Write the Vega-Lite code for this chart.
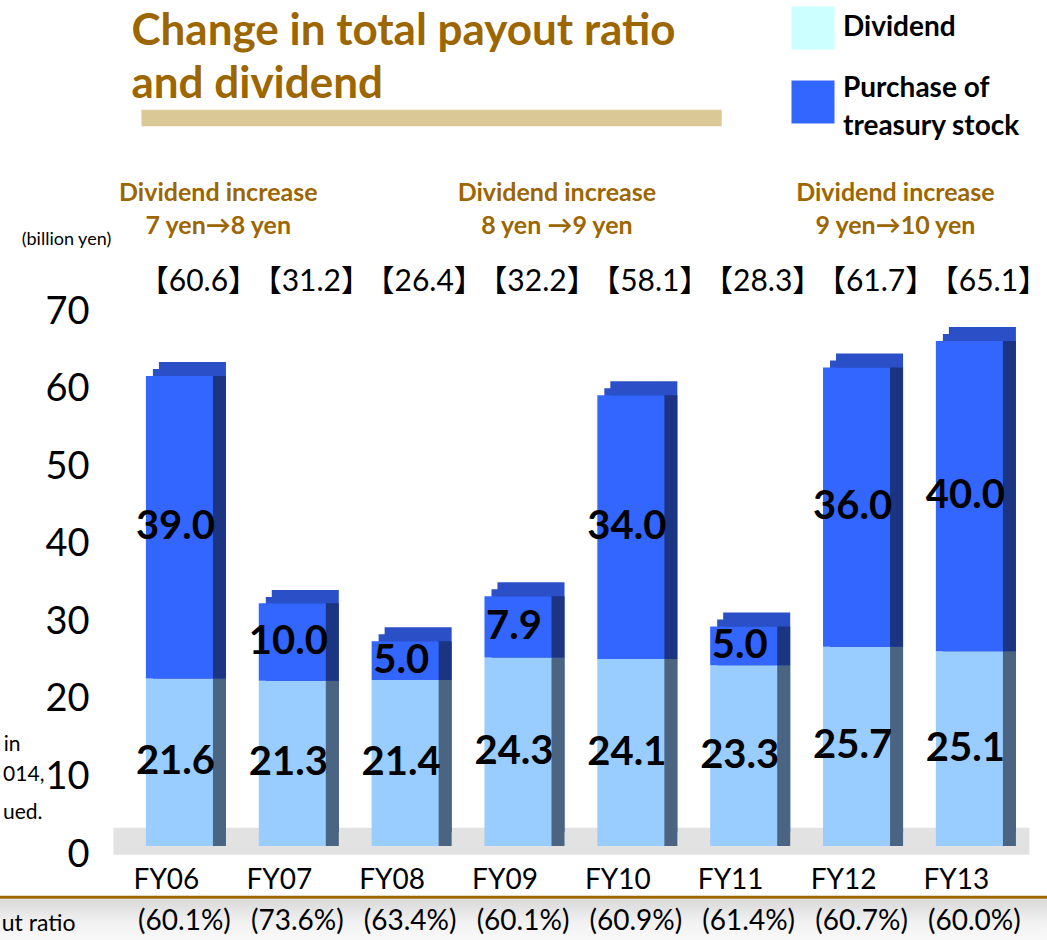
{
  "$schema": "https://vega.github.io/schema/vega-lite/v6.json",
  "width": 1047,
  "height": 543,
  "autosize": {"type": "none"},
  "padding": {"left": 0, "top": 303, "right": 0, "bottom": 94},
  "background": "white",
  "config": {"view": {"stroke": null}, "font": "Lato"},
  "datasets": {
    "bars": [
      {"fy": "FY06", "type": "Dividend", "value": 21.6},
      {"fy": "FY06", "type": "Purchase of treasury stock", "value": 39.0},
      {"fy": "FY07", "type": "Dividend", "value": 21.3},
      {"fy": "FY07", "type": "Purchase of treasury stock", "value": 10.0},
      {"fy": "FY08", "type": "Dividend", "value": 21.4},
      {"fy": "FY08", "type": "Purchase of treasury stock", "value": 5.0},
      {"fy": "FY09", "type": "Dividend", "value": 24.3},
      {"fy": "FY09", "type": "Purchase of treasury stock", "value": 7.9},
      {"fy": "FY10", "type": "Dividend", "value": 24.1},
      {"fy": "FY10", "type": "Purchase of treasury stock", "value": 34.0},
      {"fy": "FY11", "type": "Dividend", "value": 23.3},
      {"fy": "FY11", "type": "Purchase of treasury stock", "value": 5.0},
      {"fy": "FY12", "type": "Dividend", "value": 25.7},
      {"fy": "FY12", "type": "Purchase of treasury stock", "value": 36.0},
      {"fy": "FY13", "type": "Dividend", "value": 25.1},
      {"fy": "FY13", "type": "Purchase of treasury stock", "value": 40.0}
    ],
    "totals": [
      {"fy": "FY06", "total": 60.6, "ratio": 60.1},
      {"fy": "FY07", "total": 31.2, "ratio": 73.6},
      {"fy": "FY08", "total": 26.4, "ratio": 63.4},
      {"fy": "FY09", "total": 32.2, "ratio": 60.1},
      {"fy": "FY10", "total": 58.1, "ratio": 60.9},
      {"fy": "FY11", "total": 28.3, "ratio": 61.4},
      {"fy": "FY12", "total": 61.7, "ratio": 60.7},
      {"fy": "FY13", "total": 65.1, "ratio": 60.0}
    ],
    "notes": [
      {"fy": "FY07", "line1": "Dividend increase", "line2": "7 yen→8 yen"},
      {"fy": "FY10", "line1": "Dividend increase", "line2": "8 yen →9 yen"},
      {"fy": "FY13", "line1": "Dividend increase", "line2": "9 yen→10 yen"}
    ],
    "one": [{"k": 1}]
  },
  "resolve": {"scale": {"color": "independent"}, "legend": {"color": "independent"}},
  "layer": [
    {
      "data": {"name": "one"},
      "mark": {"type": "rect", "color": "#e2e2e2", "xOffset": -66, "x2Offset": 60},
      "encoding": {
        "x": {"datum": "FY06", "type": "nominal"},
        "x2": {"datum": "FY13"},
        "y": {"datum": -1.12, "type": "quantitative"},
        "y2": {"datum": 2.36}
      }
    },
    {
      "data": {"name": "totals"},
      "mark": {"type": "bar", "color": "#2a4fc6", "xOffset": 13, "yOffset": -14, "y2Offset": -14},
      "encoding": {
        "x": {"field": "fy", "type": "nominal", "title": null},
        "y": {"field": "total", "type": "quantitative", "title": null},
        "y2": {"datum": 0}
      }
    },
    {
      "data": {"name": "totals"},
      "mark": {"type": "bar", "color": "#2a4fc6", "xOffset": 7, "yOffset": -7, "y2Offset": -7},
      "encoding": {
        "x": {"field": "fy", "type": "nominal", "title": null},
        "y": {"field": "total", "type": "quantitative", "title": null},
        "y2": {"datum": 0}
      }
    },
    {
      "data": {"name": "bars"},
      "mark": {"type": "bar", "xOffset": 13},
      "encoding": {
        "x": {"field": "fy", "type": "nominal", "title": null},
        "y": {"field": "value", "type": "quantitative", "stack": "zero", "title": null},
        "detail": {"field": "type"},
        "order": {"field": "type", "sort": "ascending"},
        "color": {"condition": {"test": "datum.type === 'Dividend'", "value": "#4b6481"}, "value": "#1b3583"}
      }
    },
    {
      "data": {"name": "bars"},
      "mark": {"type": "bar"},
      "encoding": {
        "x": {
          "field": "fy", "type": "nominal", "title": null,
          "scale": {"type": "band", "domain": ["FY06","FY07","FY08","FY09","FY10","FY11","FY12","FY13"], "paddingInner": 0.406, "paddingOuter": 0.8418, "align": 0.768},
          "axis": {"title": null, "domain": false, "ticks": false, "labelPadding": 34, "labelFontSize": 28, "labelFont": "Lato", "labelColor": "black", "labelOffset": -13, "labelAngle": 0, "labelAlign": "center", "labelBaseline": "middle"}
        },
        "y": {
          "field": "value", "type": "quantitative", "stack": "zero", "title": null,
          "scale": {"domain": [0, 70], "nice": false, "zero": false},
          "axis": {"title": null, "grid": false, "domain": false, "ticks": false, "tickSize": 0, "labelPadding": 0, "offset": -89, "labelFontSize": 38, "labelFont": "Lato", "labelColor": "black", "values": [0, 10, 20, 30, 40, 50, 60, 70], "labelOffset": 9, "labelAlign": "right", "labelBaseline": "middle"}
        },
        "order": {"field": "type", "sort": "ascending"},
        "color": {
          "field": "type", "type": "nominal",
          "scale": {"domain": ["Dividend", "Purchase of treasury stock"], "range": ["#99ccff", "#3366ff"]},
          "legend": null
        }
      }
    },
    {
      "data": {"name": "bars"},
      "mark": {"type": "bar", "opacity": 0},
      "encoding": {
        "x": {"field": "fy", "type": "nominal", "title": null},
        "y": {"field": "value", "type": "quantitative", "stack": "zero", "title": null},
        "order": {"field": "type", "sort": "ascending"},
        "color": {
          "field": "type", "type": "nominal",
          "scale": {"domain": ["Dividend", "Purchase of treasury stock"], "range": ["#ccffff", "#3366ff"]},
          "legend": {
            "orient": "none", "legendX": 791, "legendY": -297, "title": null,
            "symbolType": "square", "symbolSize": 1850, "symbolStrokeWidth": 0, "symbolOpacity": 1,
            "labelFontSize": 28, "labelFont": "Lato", "labelFontWeight": "bold", "labelColor": "black",
            "labelOffset": 8, "rowPadding": 25, "padding": 0, "labelLimit": 400,
            "labelExpr": "datum.label === 'Purchase of treasury stock' ? ['Purchase of', 'treasury stock'] : datum.label",
            "encode": {
              "labels": {"update": {"lineHeight": {"value": 38}, "dy": {"signal": "datum.index === 1 ? -13 : 0"}}}
            }
          }
        }
      }
    },
    {
      "data": {"name": "bars"},
      "transform": [
        {"stack": "value", "groupby": ["fy"], "sort": [{"field": "type", "order": "ascending"}], "as": ["v0", "v1"]},
        {"calculate": "(datum.v0 + datum.v1) / 2", "as": "mid"}
      ],
      "mark": {"type": "text", "font": "Lato", "fontWeight": "bold", "fontSize": 40, "color": "black", "baseline": "middle", "dx": -4},
      "encoding": {
        "x": {"field": "fy", "type": "nominal", "title": null},
        "y": {"field": "mid", "type": "quantitative", "title": null},
        "text": {"field": "value", "type": "quantitative", "format": ".1f"}
      }
    },
    {
      "data": {"name": "totals"},
      "transform": [{"calculate": "'【' + format(datum.total, '.1f') + '】'", "as": "lab"}],
      "mark": {"type": "text", "font": "Lato, Noto Sans CJK JP", "fontSize": 30, "color": "black", "baseline": "middle", "dx": 19},
      "encoding": {
        "x": {"field": "fy", "type": "nominal", "title": null},
        "y": {"datum": 72.7, "type": "quantitative"},
        "text": {"field": "lab"}
      }
    },
    {
      "data": {"name": "notes"},
      "mark": {"type": "text", "font": "Lato", "fontWeight": "bold", "fontSize": 25, "color": "#9c6600", "baseline": "middle", "dx": -74},
      "encoding": {
        "x": {"field": "fy", "type": "nominal", "title": null},
        "y": {"datum": 84.2, "type": "quantitative"},
        "text": {"field": "line1"}
      }
    },
    {
      "data": {"name": "notes"},
      "mark": {"type": "text", "font": "Lato", "fontWeight": "bold", "fontSize": 25, "color": "#9c6600", "baseline": "middle", "dx": -74},
      "encoding": {
        "x": {"field": "fy", "type": "nominal", "title": null},
        "y": {"datum": 79.95, "type": "quantitative"},
        "text": {"field": "line2"}
      }
    },
    {
      "data": {"name": "one"},
      "mark": {"type": "rect", "color": {"gradient": "linear", "x1": 0, "y1": 0, "x2": 0, "y2": 1, "stops": [{"offset": 0, "color": "#d9d9d9"}, {"offset": 0.5, "color": "#f2f2f2"}, {"offset": 1, "color": "#fbfbfb"}]}},
      "encoding": {
        "y": {"datum": -6.85, "type": "quantitative"},
        "y2": {"datum": -13}
      }
    },
    {
      "data": {"name": "one"},
      "mark": {"type": "rule", "color": "#9c6600", "strokeWidth": 3},
      "encoding": {
        "y": {"datum": -6.6, "type": "quantitative"}
      }
    },
    {
      "data": {"name": "totals"},
      "transform": [{"calculate": "'(' + format(datum.ratio, '.1f') + '%)'", "as": "pct"}],
      "mark": {"type": "text", "font": "Lato", "fontSize": 28, "color": "black", "baseline": "middle", "dx": 5},
      "encoding": {
        "x": {"field": "fy", "type": "nominal", "title": null},
        "y": {"datum": -9.75, "type": "quantitative"},
        "text": {"field": "pct"}
      }
    },
    {
      "data": {"name": "one"},
      "mark": {"type": "rect", "color": "#dbc897", "xOffset": -38, "x2Offset": -22},
      "encoding": {
        "x": {"datum": "FY06", "type": "nominal"},
        "x2": {"datum": "FY11"},
        "y": {"datum": 92.8, "type": "quantitative"},
        "y2": {"datum": 94.9}
      }
    },
    {
      "data": {"name": "one"},
      "mark": {"type": "text", "font": "Lato", "fontWeight": "bold", "fontSize": 44, "color": "#9c6600", "baseline": "alphabetic", "align": "left", "dx": -48, "lineHeight": 53},
      "encoding": {
        "x": {"datum": "FY06", "type": "nominal"},
        "y": {"datum": 103.27, "type": "quantitative"},
        "text": {"value": ["Change in total payout ratio", "and dividend"]}
      }
    },
    {
      "data": {"name": "one"},
      "mark": {"type": "text", "font": "Lato", "fontSize": 18, "color": "black", "baseline": "middle", "dx": -113},
      "encoding": {
        "x": {"datum": "FY06", "type": "nominal"},
        "y": {"datum": 78.1, "type": "quantitative"},
        "text": {"value": "(billion yen)"}
      }
    },
    {
      "data": {"name": "one"},
      "mark": {"type": "text", "font": "Lato", "fontSize": 21, "color": "black", "baseline": "middle", "align": "right", "dx": -159},
      "encoding": {
        "x": {"datum": "FY06", "type": "nominal"},
        "y": {"datum": 13.07, "type": "quantitative"},
        "text": {"value": "in"}
      }
    },
    {
      "data": {"name": "one"},
      "mark": {"type": "text", "font": "Lato", "fontSize": 21, "color": "black", "baseline": "middle", "align": "right", "dx": -135},
      "encoding": {
        "x": {"datum": "FY06", "type": "nominal"},
        "y": {"datum": 9.2, "type": "quantitative"},
        "text": {"value": "014,"}
      }
    },
    {
      "data": {"name": "one"},
      "mark": {"type": "text", "font": "Lato", "fontSize": 21, "color": "black", "baseline": "middle", "align": "right", "dx": -137},
      "encoding": {
        "x": {"datum": "FY06", "type": "nominal"},
        "y": {"datum": 4.29, "type": "quantitative"},
        "text": {"value": "ued."}
      }
    },
    {
      "data": {"name": "one"},
      "mark": {"type": "text", "font": "Lato", "fontSize": 23, "color": "black", "baseline": "middle", "align": "right", "dx": -104},
      "encoding": {
        "x": {"datum": "FY06", "type": "nominal"},
        "y": {"datum": -10.1, "type": "quantitative"},
        "text": {"value": "ut ratio"}
      }
    }
  ]
}
